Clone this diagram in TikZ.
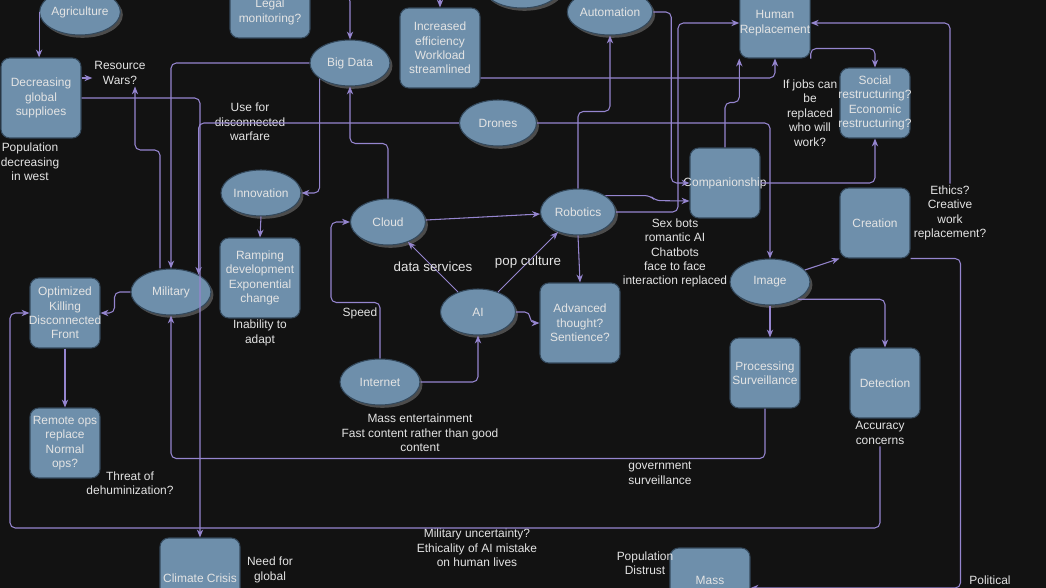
\documentclass[tikz,border=0pt]{standalone}
\usepackage{fontspec}
\setmainfont{Liberation Sans}
\usetikzlibrary{shapes.geometric, arrows.meta, shadows}
\definecolor{canvas}{HTML}{121212}
\definecolor{nodefill}{HTML}{6E8FAB}
\definecolor{nodeline}{HTML}{34495C}
\definecolor{wire}{HTML}{9585CF}
\definecolor{ink}{HTML}{E4E4E4}
\definecolor{shade}{HTML}{4C4C4C}

\begin{document}
\begin{tikzpicture}[x=0.02cm, y=-0.02cm,
	font=\fontsize{6.8}{8.2}\selectfont,
	bubble/.style={ellipse, draw=nodeline, fill=nodefill, text=ink, line width=0.6pt, minimum width=1.6cm, minimum height=0.92cm, inner sep=0pt, drop shadow={shadow xshift=1.4pt, shadow yshift=-1.6pt, fill=shade, opacity=1}},
	card/.style={draw=nodeline, fill=nodefill, text=ink, line width=0.6pt, rounded corners=5pt, minimum width=1.4cm, minimum height=1.4cm, inner sep=0pt, align=center},
	wide/.style={minimum width=1.6cm, minimum height=1.6cm},
	note/.style={text=ink, align=center, inner sep=1pt},
	tag/.style={text=ink, font=\fontsize{7.6}{9}\selectfont, inner sep=0pt},
	link/.style={draw=wire, line width=0.6pt, rounded corners=3pt, -{Stealth[length=4.5pt, width=3.6pt]}}
]
	\useasboundingbox (0, 0) rectangle (1046, 588);
	\clip (0, 0) rectangle (1046, 588);
	\fill[canvas] (0, 0) rectangle (1046, 588);

	\node[bubble] at (80, 12) (agri) {Agriculture};
	\node[bubble] at (522, -15) (topblob) {};
	\node[bubble] at (350, 63) (bigdata) {Big Data};
	\node[bubble] at (610, 12) (autom) {Automation};
	\node[bubble, minimum width=1.54cm] at (498, 123) (drones) {Drones};
	\node[bubble] at (261, 193) (innov) {Innovation};
	\node[bubble, minimum width=1.5cm] at (388, 222) (cloud) {Cloud};
	\node[bubble, minimum width=1.5cm] at (578, 212) (robotics) {Robotics};
	\node[bubble] at (171, 292) (military) {Military};
	\node[bubble, minimum width=1.5cm] at (478, 312) (ai) {AI};
	\node[bubble] at (380, 382) (internet) {Internet};
	\node[bubble] at (770, 282) (image) {Image};

	\node[card, wide, minimum height=1.04cm] at (270, 12) (legal) {Legal\\monitoring?};
	\node[card, wide] at (41, 98) (decr) {Decreasing\\global\\supplioes};
	\node[card, wide] at (440, 48) (effic) {Increased\\efficiency\\Workload\\streamlined};
	\node[card] at (775, 23) (humrep) {Human\\Replacement};
	\node[card] at (875, 103) (social) {Social\\\makebox[0pt]{restructuring?}\\Economic\\\makebox[0pt]{restructuring?}};
	\node[card] at (725, 183) (comp) {\makebox[0pt]{Companionship}};
	\node[card] at (875, 223) (creation) {Creation};
	\node[card, wide] at (260, 278) (ramping) {Ramping\\development\\Exponential\\change};
	\node[card] at (65, 313) (optkill) {Optimized\\Killing\\\makebox[0pt]{Disconnected}\\Front};
	\node[card, wide] at (580, 323) (advanced) {Advanced\\thought?\\Sentience?};
	\node[card] at (765, 373) (procsurv) {Processing\\Surveillance};
	\node[card] at (885, 383) (detect) {Detection};
	\node[card] at (65, 443) (remote) {Remote ops\\replace\\Normal\\ops?};
	\node[card, wide] at (200, 578) (climate) {Climate Crisis};
	\node[card, wide] at (710, 588) (mass) {Mass\\\mbox{}};

	\node[note] at (120, 73) (reswars) {Resource\\Wars?};
	\node[note] at (30, 162) (popwest) {Population\\decreasing\\in west};
	\node[note] at (250, 122) (warfare) {Use for\\disconnected\\warfare};
	\node[note] at (810, 113) (jobs) {If jobs can\\be\\replaced\\who will\\work?};
	\node[note] at (950, 213) (ethics) {Ethics?\\Creative\\work\\replacement?};
	\node[note] at (675, 253) (sexbots) {Sex bots\\romantic AI\\Chatbots\\face to face\\interaction replaced};
	\node[note] at (360, 313) (speed) {Speed};
	\node[note] at (260, 333) (inability) {Inability to\\adapt};
	\node[note] at (420, 433) (massent) {Mass entertainment\\Fast content rather than good\\content};
	\node[note] at (660, 473) (govsurv) {government\\surveillance};
	\node[note] at (880, 433) (accuracy) {Accuracy\\concerns};
	\node[note] at (130, 483) (threat) {Threat of\\dehuminization?};
	\node[note] at (477, 548) (miluncert) {Military uncertainty?\\Ethicality of AI mistake\\on human lives};
	\node[note] at (270, 570) (needglobal) {Need for\\global};
	\node[note] at (645, 563) (distrust) {Population\\Distrust};
	\node[note] at (990, 580) (political) {Political};

	\coordinate (bigin) at (335, -4);
	\coordinate (efficin) at (440, -10);

	\draw[link] (agri.west) -- (agri.west |- decr.north);
	\draw[link] (decr.east |- 0, 78) -- (reswars.west |- 0, 78);
	\draw[link] (decr.east) -| (climate.north);
	\draw[link] (160, 0 |- military.north) -- (160, 150) -- (135, 150) -- (135, 0 |- reswars.south);
	\draw[link] (bigdata.west) -| (military.north);
	\draw[link] (bigdata.207) |- (innov.east);
	\draw[link] (innov.south) -- (ramping.north);
	\draw[link] (cloud.north) -- ++(0, -55) -| (bigdata.south);
	\draw[link] (bigin) -| (bigdata.north);
	\draw[link] (efficin) -- (effic.north);
	\draw[link] (effic.east |- 0, 78) -| (humrep.south);
	\draw[link] (autom.east) -- ++(18, 0) |- (comp.west);
	\draw[link] (robotics.north) -- ++(0, -77) -| (autom.south);
	\draw[link] (robotics.31) -- ++(45, 0) -- ++(5, 5) -- (comp.west |- 0, 201);
	\draw[link] (robotics.east) -- ++(62, 0) |- (humrep.west);
	\draw[link] (comp.north) -- ++(0, -45) -| (humrep.south west);
	\draw[link] (comp.east) -| (social.south);
	\draw[link] (humrep.south east) -- ++(0, -10) -| (social.north);
	\draw[link] (drones.east) -| (image.north);
	\draw[link] (drones.west) -| (military.32);
	\draw[link] (ethics.north) |- (humrep.east);
	\draw[link] (creation.south east) -- ++(50, 0) |- (mass.east);
	\draw[link] (image.19) -- (creation.south west);
	\draw[link] (image.south) -- (image.south |- procsurv.north);
	\draw[link] (image.-32) -| (detect.north);
	\draw[link] (procsurv.south) -- ++(0, 50) -| (military.south);
	\draw[link] (accuracy.south) |- (10, 528) |- (optkill.west);
	\draw[link] (internet.north) -- ++(0, -56) -- ++(-49, 0) |- (cloud.west);
	\draw[link] (internet.east) -| (ai.south);
	\draw[link] (ai) -- node[tag] {data services} (cloud);
	\draw[link] (ai) -- node[tag] {pop culture} (robotics);
	\draw[link] (ai.east) -- ++(14, 0) |- (advanced.west);
	\draw[link] (cloud) -- (robotics);
	\draw[link] (robotics.south) -- (advanced.north);
	\draw[link] (military.west) -- ++(-16, 0) |- (optkill.east);
	\draw[link] (optkill.south) -- (remote.north);
\end{tikzpicture}
\end{document}
